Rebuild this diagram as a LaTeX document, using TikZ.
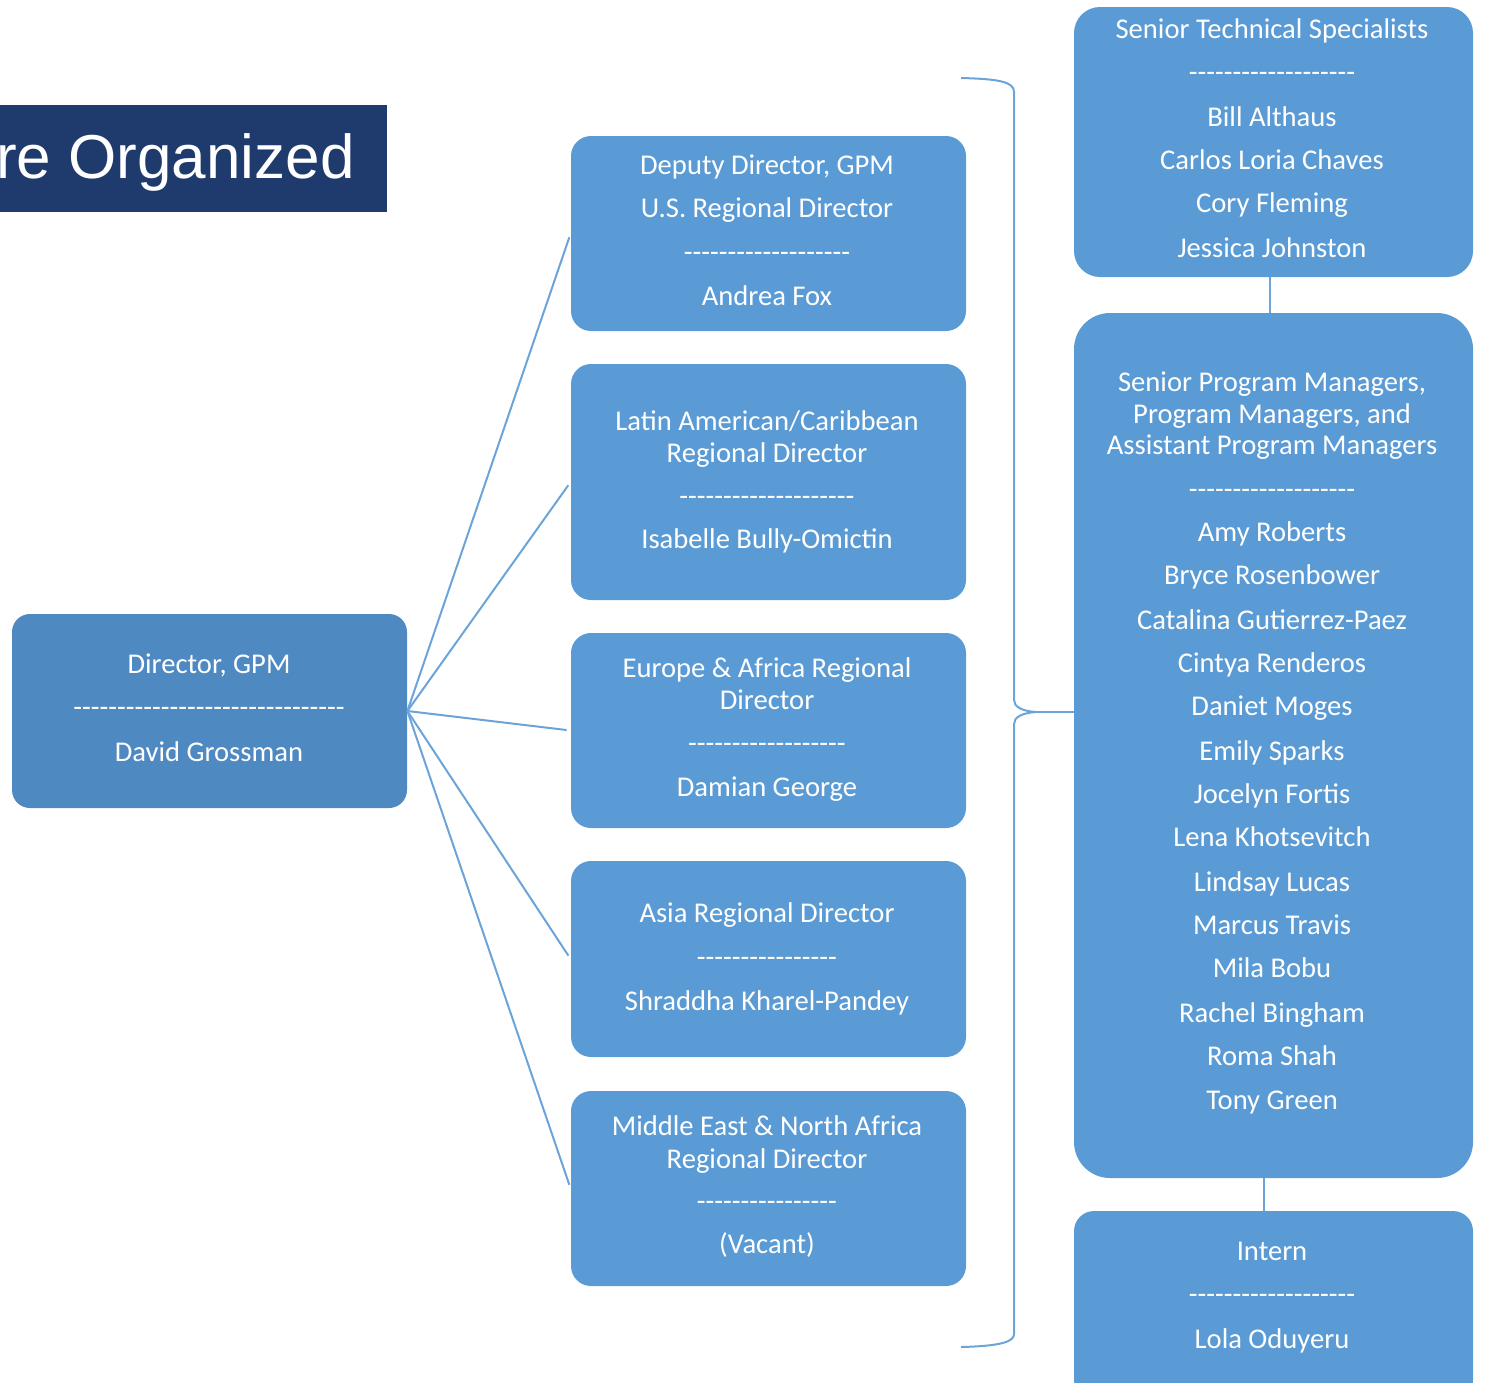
\documentclass[tikz,border=0pt]{standalone}
\usepackage{fontspec}
\setmainfont{Carlito}[Ligatures=TeXOff]
\newfontfamily\titlefont{Liberation Sans}
\definecolor{boxblue}{HTML}{5B9BD5}
\definecolor{dirblue}{HTML}{4F89C2}
\definecolor{lineblue}{HTML}{6CA4DA}
\definecolor{navy}{HTML}{1F3B6D}
\newcommand\hyph[1]{\foreach \k in {1,...,#1}{-}}
\begin{document}
\begin{tikzpicture}[x=0.5pt,y=-0.5pt,
  box/.style={fill=boxblue, draw=none, rounded corners=10pt, inner sep=0pt},
  txt/.style={anchor=base, text=white, inner sep=0pt, font=\fontsize{14.3}{16}\selectfont},
  link/.style={draw=lineblue, line width=1pt}]
\useasboundingbox (0,0) rectangle (1486,1382);
\clip (0,0) rectangle (1486,1382);
% title
\node[fill=navy, minimum width=193.5pt, minimum height=53.5pt, inner sep=0pt] (titlebox) at (193.5,158.5) {};
\node[anchor=base east, text=white, inner sep=0pt, font=\titlefont\fontsize{31}{36}\selectfont] (title) at (355,178) {re Organized};
% boxes
\node[box, fill=dirblue, rounded corners=9pt, minimum width=197.5pt, minimum height=97pt] (dir) at (209.5,711) {};
\node[box, minimum width=197.5pt, minimum height=97.5pt] (b1) at (768.5,233.5) {};
\node[box, minimum width=197.5pt, minimum height=118pt] (b2) at (768.5,482) {};
\node[box, minimum width=197.5pt, minimum height=97.5pt] (b3) at (768.5,730.5) {};
\node[box, minimum width=197.5pt, minimum height=98pt] (b4) at (768.5,959) {};
\node[box, minimum width=197.5pt, minimum height=97.5pt] (b5) at (768.5,1188.5) {};
\node[box, rounded corners=13pt, minimum width=199.5pt, minimum height=135pt] (sts) at (1273.5,142) {};
\node[box, rounded corners=18pt, minimum width=199.5pt, minimum height=432.5pt] (spm) at (1273.5,745.5) {};
\node[box, minimum width=199.5pt, minimum height=94.5pt] (intern) at (1273.5,1305.5) {};
% connectors
\foreach \b in {b1,b2,b3,b4,b5}{
  \draw[link, shorten >=2pt] (dir.east) -- (\b.west);
}
\draw[link] ([xshift=-1.75pt]sts.south) -- ([xshift=-1.75pt]spm.north);
\draw[link] ([xshift=-4.75pt]spm.south) -- ([xshift=-4.75pt]intern.north);
% bracket
\coordinate (brtop) at (961,78);
\coordinate (brbot) at (961,1347);
\coordinate (brtip) at (1036,712);
\draw[link] (brtop) .. controls (1000,79) and (1014,82) .. (1014,92)
  -- (1014,700) .. controls (1014,707) and (1022,711) .. (brtip)
  .. controls (1022,713) and (1014,717) .. (1014,724)
  -- (1014,1334) .. controls (1014,1342) and (1000,1346) .. (brbot);
\draw[link] (brtip) -- (spm.west |- brtip);
% director text
\node[txt] (d1) at (209,673) {Director, GPM};
\node[txt] (d2) at (209,716) {\hyph{31}};
\node[txt] (d3) at (209,761) {David Grossman};
% b1
\node[txt] (b1a) at (767,174) {Deputy Director, GPM};
\node[txt] (b1b) at (767,217) {U.S. Regional Director};
\node[txt] (b1c) at (767,261) {\hyph{19}};
\node[txt] (b1d) at (767,305) {Andrea Fox};
% b2
\node[txt] (b2a) at (767,430) {Latin American/Caribbean};
\node[txt] (b2b) at (767,462) {Regional Director};
\node[txt] (b2c) at (767,505) {\hyph{20}};
\node[txt] (b2d) at (767,548) {Isabelle Bully-Omictin};
% b3
\node[txt] (b3a) at (767,677) {Europe \& Africa Regional};
\node[txt] (b3b) at (767,709) {Director};
\node[txt] (b3c) at (767,752) {\hyph{18}};
\node[txt] (b3d) at (767,796) {Damian George};
% b4
\node[txt] (b4a) at (767,922) {Asia Regional Director};
\node[txt] (b4c) at (767,966) {\hyph{16}};
\node[txt] (b4d) at (767,1010) {Shraddha Kharel-Pandey};
% b5
\node[txt] (b5a) at (767,1135) {Middle East \& North Africa};
\node[txt] (b5b) at (767,1168) {Regional Director};
\node[txt] (b5c) at (767,1210) {\hyph{16}};
\node[txt] (b5d) at (767,1253) {(Vacant)};
% sts
\node[txt] (s0) at (1272,38) {Senior Technical Specialists};
\node[txt] (s1) at (1272,81) {\hyph{19}};
\node[txt] (s2) at (1272,126) {Bill Althaus};
\node[txt] (s3) at (1272,169) {Carlos Loria Chaves};
\node[txt] (s4) at (1272,212) {Cory Fleming};
\node[txt] (s5) at (1272,257) {Jessica Johnston};
% spm
\node[txt] (p1) at (1272,391) {Senior Program Managers,};
\node[txt] (p2) at (1272,423) {Program Managers, and};
\node[txt] (p3) at (1272,454) {Assistant Program Managers};
\node[txt] (p4) at (1272,498) {\hyph{19}};
\foreach \y/\n [count=\i] in {541/Amy Roberts, 584/Bryce Rosenbower, 629/Catalina Gutierrez-Paez,
  672/Cintya Renderos, 715/Daniet Moges, 760/Emily Sparks, 803/Jocelyn Fortis,
  846/Lena Khotsevitch, 891/Lindsay Lucas, 934/Marcus Travis, 977/Mila Bobu,
  1022/Rachel Bingham, 1065/Roma Shah, 1109/Tony Green}{
  \node[txt] (n\i) at (1272,\y) {\n};
}
% intern
\node[txt] (i1) at (1272,1260) {Intern};
\node[txt] (i2) at (1272,1303) {\hyph{19}};
\node[txt] (i3) at (1272,1348) {Lola Oduyeru};
\end{tikzpicture}
\end{document}
